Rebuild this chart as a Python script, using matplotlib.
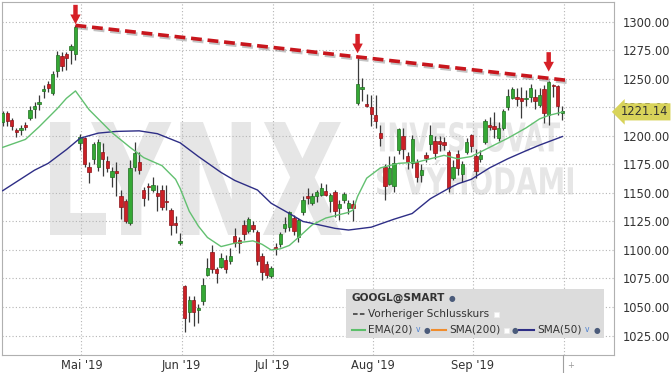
import numpy as np
import pandas as pd
import matplotlib
matplotlib.use("Agg")
import matplotlib.pyplot as plt
import matplotlib.patheffects as pe
from matplotlib.patches import Rectangle, PathPatch
from matplotlib.lines import Line2D
from matplotlib.textpath import TextPath
from matplotlib.font_manager import FontProperties
from matplotlib.transforms import Affine2D, blended_transform_factory

W, H = 671, 373

# trading days shown on the chart
dates = pd.bdate_range("2019-04-04", "2019-09-30", freq="C",
                       holidays=["2019-04-19", "2019-05-27", "2019-07-04", "2019-09-02"])

# OHLC
opens = [1212, 1220, 1214, 1205, 1205, 1210, 1216, 1224, 1228, 1239.5, 1246, 1238, 1257, 1270, 1271.5, 1275, 1272, 1194,
         1198, 1173, 1180, 1173, 1186, 1178, 1164, 1169, 1147, 1143, 1124, 1173, 1177, 1153, 1156, 1153, 1150, 1153, 1143, 1135, 1123, 1106,
         1068, 1046, 1056, 1047, 1055, 1078, 1098, 1083, 1085, 1091, 1090, 1112, 1109, 1122, 1117, 1122, 1116, 1095, 1088, 1077,
         1102, 1105, 1119, 1120, 1128, 1111, 1133, 1147, 1141, 1147, 1148, 1152, 1143, 1151, 1137, 1144, 1137, 1140, 1229, 1241, 1228, 1225,
         1218, 1203, 1173, 1158, 1156, 1188, 1200, 1182, 1176, 1177, 1166, 1183, 1193, 1196, 1196, 1195, 1186, 1163, 1184, 1167, 1186, 1201,
         1182, 1180, 1195, 1210, 1209, 1198, 1207, 1225, 1233, 1234, 1233, 1232, 1234, 1234, 1227, 1241, 1218, 1244.5, 1244, 1220.4]
highs = [1222, 1222, 1216, 1207, 1209.5, 1212, 1226, 1229.5, 1236, 1245, 1248, 1257, 1274.5, 1274, 1274, 1281, 1297, 1202,
         1199.5, 1177.5, 1195, 1197, 1194, 1182, 1173, 1177.5, 1152.6, 1145, 1179, 1195, 1186, 1155, 1159, 1164, 1157, 1157, 1157, 1137, 1130, 1115,
         1069, 1060, 1060, 1053, 1075, 1093, 1104, 1085, 1097, 1096, 1102, 1119, 1111, 1126, 1129, 1125, 1117.5, 1097, 1090, 1086,
         1106, 1116, 1129, 1134, 1131, 1128, 1147, 1154, 1150, 1152.6, 1159, 1158, 1150, 1153, 1144, 1151, 1144, 1144, 1270, 1251, 1237, 1236,
         1236, 1210, 1175, 1182, 1182, 1207, 1207, 1186, 1201, 1180, 1175, 1186, 1210, 1200, 1200, 1199, 1188, 1179, 1188, 1178, 1198, 1202,
         1189, 1188, 1215, 1217, 1221, 1212, 1224, 1241, 1243, 1242, 1243, 1240, 1246, 1241, 1242, 1245, 1248.5, 1246, 1245, 1226]
lows = [1209, 1209, 1205, 1199, 1201, 1205, 1214, 1216, 1223, 1233.5, 1239, 1236, 1252, 1257, 1258, 1263, 1267, 1188,
        1173, 1158.5, 1175, 1169, 1165, 1168, 1155.5, 1147, 1127, 1124, 1122, 1169, 1167, 1139, 1144, 1151, 1134, 1135, 1135, 1113, 1115, 1104,
        1028, 1037, 1033, 1036, 1052, 1077, 1080, 1071, 1084, 1080, 1088, 1103, 1097, 1109, 1115, 1116, 1087, 1074, 1075, 1075,
        1096, 1103, 1116, 1117, 1113, 1107, 1131, 1140, 1139.5, 1142.4, 1147, 1147, 1133, 1129, 1126, 1141, 1132, 1125, 1227, 1231, 1225.5, 1209,
        1207, 1191, 1144, 1157, 1151, 1184, 1180, 1171, 1172, 1160, 1160, 1177, 1188, 1180, 1187, 1187.7, 1151, 1161, 1166, 1160, 1184, 1186,
        1163, 1177, 1193, 1205, 1198, 1196, 1205, 1223, 1232, 1226, 1216, 1226, 1230, 1224, 1225, 1211, 1210, 1234, 1218, 1214]
closes = [1220, 1213, 1209, 1203.5, 1207, 1208, 1223, 1226, 1230, 1241, 1242, 1254, 1271, 1261, 1268, 1279, 1296, 1199,
          1175, 1168, 1193, 1195, 1180, 1172, 1169, 1167.5, 1138, 1125.5, 1171.5, 1185, 1170, 1146, 1155, 1157, 1147, 1138, 1142, 1122, 1122, 1108,
          1040, 1056, 1046, 1049, 1069, 1084, 1083, 1080, 1093, 1083, 1095, 1106, 1106, 1114, 1127, 1118, 1090, 1081, 1078, 1084,
          1101, 1114, 1123, 1133, 1117, 1126, 1144, 1146, 1147, 1151, 1154.5, 1148, 1148, 1134, 1140, 1149, 1141, 1137, 1246, 1243, 1226, 1219.5,
          1213, 1198, 1156, 1172, 1176, 1206, 1189, 1177, 1197, 1164, 1170, 1181, 1201, 1185, 1193, 1192.5, 1154, 1173, 1172, 1175, 1195, 1191,
          1169, 1183, 1213, 1208, 1206.5, 1207, 1222, 1235, 1241, 1232.5, 1231, 1233, 1242, 1231, 1236, 1220, 1247.5, 1243.5, 1226, 1221.14]

# indicator lines (day index, value)
ema_idx = [0, 5, 8, 11, 12, 14, 16, 19, 23, 24, 28, 31, 35, 38, 39, 41, 43, 45, 48, 51, 55, 57, 59, 61, 63, 65, 68,
           71, 73, 76, 77, 78, 80, 83, 87, 91, 97, 100, 103, 106, 111, 115, 118, 120, 123]
ema_val = [1190, 1197, 1208, 1220, 1224, 1233, 1239.5, 1223, 1207, 1203, 1190, 1181, 1174, 1162, 1154, 1134, 1121, 1111,
           1103, 1106, 1108, 1105, 1100, 1101, 1104, 1111, 1122, 1128, 1130, 1133, 1135, 1147, 1163, 1172, 1176, 1177,
           1183, 1180, 1182, 1188, 1198, 1207, 1215, 1218, 1221]
sma_idx = [0, 7, 10, 14, 17, 21, 25, 30, 34, 39, 43, 48, 51, 56, 59, 63, 66, 68, 73, 76, 81, 86, 90, 94, 98, 100, 103,
           107, 111, 115, 118, 123]
sma_val = [1152, 1170, 1176, 1188, 1198, 1202.5, 1204, 1204.5, 1202, 1194, 1182, 1168, 1161, 1152.6, 1141, 1132, 1125,
           1123.4, 1119, 1117.5, 1120, 1127, 1132, 1145, 1154, 1158, 1162, 1172, 1180, 1187, 1192, 1199.5]

trend_idx = [16, 124.7]
trend_val = [1297, 1248.5]
arrow_idx = [16, 78, 120]
arrow_tip = [1298, 1272.5, 1256.5]

month_labels = ["Mai '19", "Jun '19", "Jul '19", "Aug '19", "Sep '19", ""]
price_ticks = list(range(1025, 1301, 25))
last_price = 1221.14

fig = plt.figure(figsize=(W / 100, H / 100), dpi=100)
fig.patch.set_facecolor("white")
ax = fig.add_axes([2 / W, 1 - 355 / H, 612 / W, 353 / H])
ax.set_xlim(-0.15, 134.35)
ax.set_ylim(1007.9, 1317.5)


def fig_xy(x, y):
    return x / W, 1 - y / H


# watermark
def stamp(text, x0, y0, x1, y1):
    tp = TextPath((0, 0), text, size=100, prop=FontProperties(family="DejaVu Sans", weight="bold"))
    bb = tp.get_extents()
    fx0, fy0 = fig_xy(x0, y1)
    fx1, fy1 = fig_xy(x1, y0)
    tr = Affine2D().translate(-bb.x0, -bb.y0).scale((fx1 - fx0) / bb.width, (fy1 - fy0) / bb.height)
    tr = tr.translate(fx0, fy0) + fig.transFigure
    ax.add_patch(PathPatch(tp, fc="#e6e6e6", ec="none", transform=tr, zorder=0.3))


stamp("LYNX", 50, 122, 342, 235)
stamp("INVESTOVAT", 380, 122, 560, 152)
stamp("S VÝHODAMI", 377, 160, 573, 195)

# month positions
month_pos = []
for m in [5, 6, 7, 8, 9]:
    month_pos.append(np.where(dates.month == m)[0][0] - 0.7)
month_pos.append(len(dates) - 0.7)

ax.set_xticks(month_pos)
ax.set_xticklabels(month_labels)
ax.set_yticks(price_ticks)
ax.set_yticklabels([f"{v:.2f}" for v in price_ticks])
ax.yaxis.tick_right()
ax.tick_params(axis="both", length=0, labelsize=8.3, labelcolor="#333333")
ax.tick_params(axis="y", pad=6)
ax.tick_params(axis="x", pad=3)
ax.grid(True, color="#b5b5b5", linestyle=(0, (1, 2)), linewidth=0.8, zorder=0.5)
ax.set_axisbelow(True)
for s in ax.spines.values():
    s.set_color("#b0b0b0")
    s.set_linewidth(0.8)

# candles
for i in range(len(dates)):
    o, h, l, c = opens[i], highs[i], lows[i], closes[i]
    up = c >= o
    ax.plot([i, i], [l, h], color="#3a3a3a", lw=0.9, zorder=2, solid_capstyle="butt")
    bottom = min(o, c)
    height = max(abs(c - o), 1.3)
    ax.add_patch(Rectangle((i - 0.37, bottom), 0.74, height,
                           fc="#35a835" if up else "#cc2026",
                           ec="#1f6e1f" if up else "#8c1217", lw=0.5, zorder=3))

ax.plot(sma_idx, sma_val, color="#2e2e86", lw=1.0, zorder=4)
ax.plot(ema_idx, ema_val, color="#62c070", lw=1.0, zorder=4)

# trend line and arrows
ax.plot(trend_idx, trend_val, color="#c8161d", lw=2.6, dashes=(3, 1.6), zorder=5,
        path_effects=[pe.SimpleLineShadow(offset=(1.2, -1.5), shadow_color="#555555", alpha=0.35), pe.Normal()])
for i, tip in zip(arrow_idx, arrow_tip):
    ax.annotate("", xy=(i, tip), xytext=(i, tip + 17),
                arrowprops=dict(arrowstyle="simple,head_width=0.75,head_length=0.7,tail_width=0.32",
                                fc="#d62027", ec="none", shrinkA=0, shrinkB=0), zorder=6)

# last price label
tr = blended_transform_factory(ax.transAxes, ax.transData)
ax.text(1 + 619 / 612 - 1, last_price, f"{last_price:.2f}", transform=tr, ha="left", va="center",
        fontsize=8.3, color="#333333", clip_on=False, zorder=10,
        bbox=dict(boxstyle="larrow,pad=0.18", fc="#d8d35a", ec="none"))

# small marker under the last grid line
fig.add_artist(Line2D([563 / W, 563 / W], [1 - 355 / H, 1 - 372 / H], color="#a0a0a0", lw=0.8,
                      transform=fig.transFigure))
fig.text(*fig_xy(567, 365), "+", fontsize=6, color="#999999", va="center")

# legend box
fig.add_artist(Rectangle(fig_xy(346, 338), 258 / W, 49 / H, fc="#dcdcdc", ec="none",
                         transform=fig.transFigure))
lg = dict(fontsize=7.6, color="#333333", va="center")
fig.text(*fig_xy(352, 298), "GOOGL@SMART", fontweight="bold", **lg)
fig.text(*fig_xy(449, 298), "●", fontsize=5.5, color="#4b5b7a", va="center")
fig.add_artist(Line2D([353 / W, 365 / W], [1 - 314 / H] * 2, color="#333333", lw=1.1,
                      dashes=(3, 1.5), transform=fig.transFigure))
fig.text(*fig_xy(368, 314), "Vorheriger Schlusskurs", **lg)
fig.add_artist(Rectangle(fig_xy(494, 317), 5 / W, 5 / H, fc="white", ec="#eeeeee", lw=0.5,
                         transform=fig.transFigure))
fig.add_artist(Line2D([352 / W, 365 / W], [1 - 330 / H] * 2, color="#5cbf6a", lw=1.5,
                      transform=fig.transFigure))
fig.text(*fig_xy(368, 330), "EMA(20)", **lg)
fig.text(*fig_xy(416, 329), "v", fontsize=5.5, color="#4a7fd0", va="center")
fig.text(*fig_xy(424, 330), "●", fontsize=5.5, color="#4b5b7a", va="center")
fig.add_artist(Line2D([432 / W, 446 / W], [1 - 330 / H] * 2, color="#f08c2c", lw=1.5,
                      transform=fig.transFigure))
fig.text(*fig_xy(449, 330), "SMA(200)", **lg)
fig.add_artist(Rectangle(fig_xy(504, 333), 5 / W, 5 / H, fc="white", ec="#eeeeee", lw=0.5,
                         transform=fig.transFigure))
fig.text(*fig_xy(512, 330), "●", fontsize=5.5, color="#4b5b7a", va="center")
fig.add_artist(Line2D([519 / W, 534 / W], [1 - 330 / H] * 2, color="#2e2e86", lw=1.5,
                      transform=fig.transFigure))
fig.text(*fig_xy(537, 330), "SMA(50)", **lg)
fig.text(*fig_xy(585, 329), "v", fontsize=5.5, color="#4a7fd0", va="center")
fig.text(*fig_xy(594, 330), "●", fontsize=5.5, color="#4b5b7a", va="center")

fig.savefig("out.png", dpi=100)
